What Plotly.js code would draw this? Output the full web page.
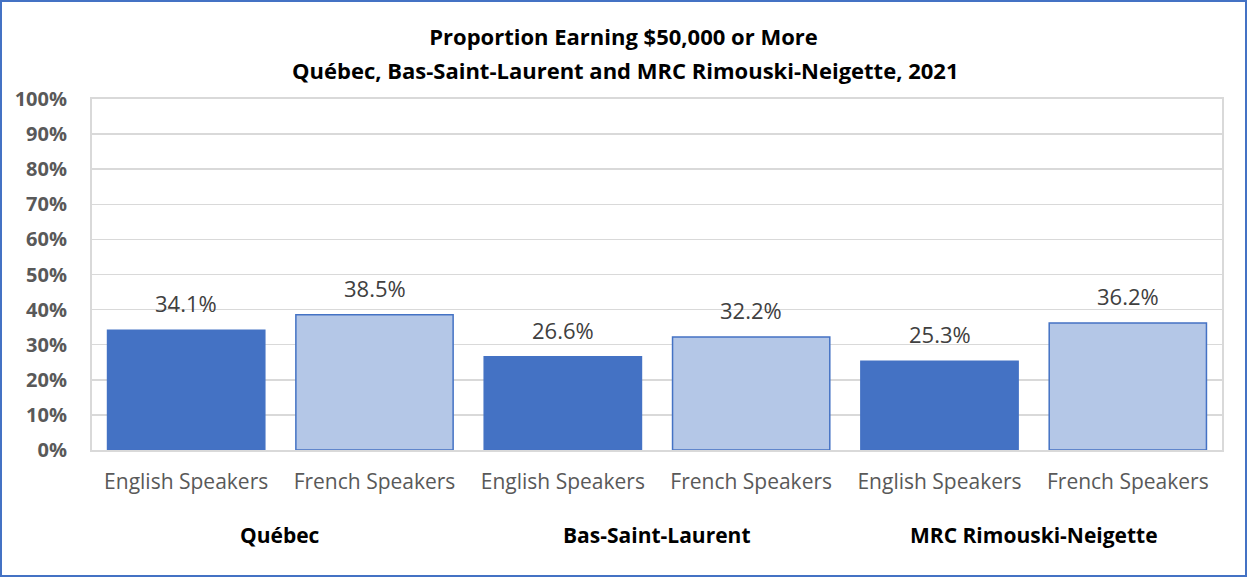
<!DOCTYPE html>
<html>
<head>
<meta charset="utf-8">
<script src="https://cdn.plot.ly/plotly-3.0.1.min.js"></script>
<style>
html,body{margin:0;padding:0;background:#fff;}
#frame{width:1247px;height:577px;box-sizing:border-box;border:2px solid #4472C4;overflow:hidden;}
#chart{width:1243px;height:573px;}
</style>
</head>
<body>
<div id="frame"><div id="chart"></div></div>
<script>
var groups = ["Québec", "Québec", "Bas-Saint-Laurent", "Bas-Saint-Laurent", "MRC Rimouski-Neigette", "MRC Rimouski-Neigette"];
var speakers = ["English Speakers", "French Speakers", "English Speakers", "French Speakers", "English Speakers", "French Speakers"];
var values = [0.341, 0.385, 0.266, 0.322, 0.253, 0.362];
var groupNames = ["Québec", "Bas-Saint-Laurent", "MRC Rimouski-Neigette"];
var yTicks = [0, 0.1, 0.2, 0.3, 0.4, 0.5, 0.6, 0.7, 0.8, 0.9, 1.0];

var FONT = "'Open Sans', sans-serif";
var idx = values.map(function(v, i){ return i; });
var fill = speakers.map(function(s){ return s === "English Speakers" ? "#4472C4" : "#B4C7E7"; });

var trace = {
  type: "bar",
  x: idx,
  y: values,
  marker: {color: fill, line: {color: "#4472C4", width: 1.5}},
  hoverinfo: "skip"
};

var W = 1243, ML = 90, MR = 23;
var annotations = [];
values.forEach(function(v, i){
  annotations.push({
    x: i, y: v, xref: "x", yref: "y",
    text: (v*100).toFixed(1) + "%",
    showarrow: false, yanchor: "bottom", yshift: 10,
    font: {family: FONT, size: 22, color: "#404040"}
  });
});
groupNames.forEach(function(g){
  var members = idx.filter(function(i){ return groups[i] === g; });
  var mid = (members[0] + members[members.length-1]) / 2;
  annotations.push({
    x: mid, xref: "x", y: -(535-450)/351, yref: "paper", yanchor: "middle",
    text: "<b>" + g + "</b>", showarrow: false,
    font: {family: FONT, size: 21, color: "#000000"}
  });
});
annotations.push({
  x: (623 - ML) / (W - ML - MR), xref: "paper", xanchor: "center",
  y: 1 + (99-70)/351, yref: "paper", yanchor: "middle",
  text: "<b>Québec, Bas-Saint-Laurent and MRC Rimouski-Neigette, 2021</b>",
  showarrow: false,
  font: {family: FONT, size: 22, color: "#000000"}
});

var layout = {
  width: W, height: 573,
  margin: {l: ML, r: MR, t: 97, b: 125},
  paper_bgcolor: "#ffffff", plot_bgcolor: "#ffffff",
  showlegend: false,
  bargap: 0.165,
  title: {
    text: "<b>Proportion Earning $50,000 or More</b>",
    x: 0.5, xanchor: "center", y: 1 - 35/573, yanchor: "middle", yref: "container",
    font: {family: FONT, size: 22, color: "#000000"}
  },
  xaxis: {
    range: [-0.5, 5.5],
    tickvals: idx, ticktext: speakers,
    showgrid: false, zeroline: false,
    showline: true, linecolor: "#D9D9D9", linewidth: 2, mirror: true,
    ticks: "outside", ticklen: 12, tickcolor: "rgba(0,0,0,0)",
    tickfont: {family: FONT, size: 21, color: "#595959"},
    fixedrange: true
  },
  yaxis: {
    range: [0, 1],
    tickvals: yTicks, tickformat: ".0%",
    showgrid: true, gridcolor: "#D9D9D9", gridwidth: 1.5,
    zeroline: false,
    showline: true, linecolor: "#D9D9D9", linewidth: 2, mirror: true,
    ticklabelstandoff: 19,
    tickfont: {family: FONT, size: 20, color: "#595959", weight: "bold"},
    fixedrange: true
  },
  annotations: annotations
};

Plotly.newPlot("chart", [trace], layout, {displayModeBar: false, staticPlot: true});
</script>
</body>
</html>
